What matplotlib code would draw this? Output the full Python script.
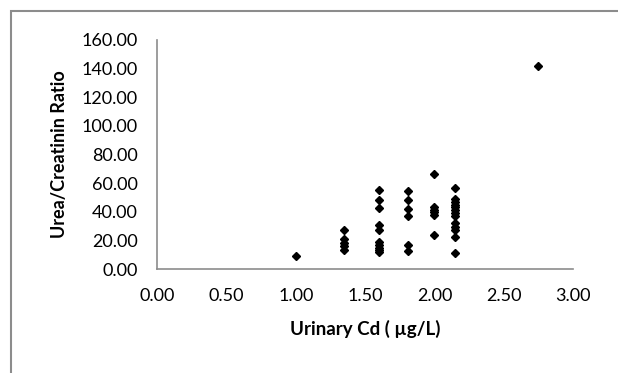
import matplotlib
matplotlib.use("Agg")
import matplotlib.pyplot as plt
from matplotlib.patches import Rectangle

plt.rcParams['font.family'] = ['Lato', 'DejaVu Sans']

# urinary Cd groups and the urea/creatinin ratios
cd_levels = [1.00, 1.35, 1.60, 1.81, 2.00, 2.15, 2.75]
ratio_groups = [
    [9.0],
    [27.5, 21.0, 18.5, 16.0, 13.5],
    [55.0, 48.5, 42.5, 30.5, 27.5, 19.0, 17.0, 15.0, 13.5, 12.0],
    [54.7, 48.5, 41.7, 37.0, 16.8, 12.8],
    [66.5, 43.5, 41.5, 39.5, 37.8, 23.8],
    [56.8, 49.0, 47.0, 45.0, 43.0, 41.0, 39.0, 37.0, 32.0, 29.5, 27.0, 22.5, 11.5],
    [141.5],
]
x_ticks = [0.0, 0.5, 1.0, 1.5, 2.0, 2.5, 3.0]
y_ticks = [0, 20, 40, 60, 80, 100, 120, 140, 160]

xs = []
ys = []
for cd, group in zip(cd_levels, ratio_groups):
    for r in group:
        xs.append(cd)
        ys.append(r)

fig = plt.figure(figsize=(6.18, 3.73), dpi=100)
ax = fig.add_axes([0.2545, 0.2788, 0.6727, 0.614])

ax.plot(xs, ys, linestyle='none', marker='D', markersize=4.4, color='black')

ax.set_xlim(0, 3)
ax.set_ylim(0, 160)
ax.set_xticks(x_ticks)
ax.set_xticklabels(['%.2f' % v for v in x_ticks])
ax.set_yticks(y_ticks)
ax.set_yticklabels(['%.2f' % v for v in y_ticks])
ax.tick_params(length=0, labelsize=13)
ax.tick_params(axis='y', pad=14)
ax.tick_params(axis='x', pad=14)

for side in ['top', 'right']:
    ax.spines[side].set_visible(False)
for side in ['left', 'bottom']:
    ax.spines[side].set_color('#8c8c8c')
    ax.spines[side].set_linewidth(1.2)

ax.set_xlabel('Urinary Cd ( µg/L)', fontsize=13.5, fontweight='bold', labelpad=11)
ax.set_ylabel('Urea/Creatinin Ratio', fontsize=13, fontweight='bold', labelpad=10)

# chart area border (only left and top edges fall inside the picture)
fig.patches.append(Rectangle((11 / 618, -0.1), 1.2, 1 - 11 / 373 + 0.1,
                             transform=fig.transFigure, fill=False,
                             edgecolor='#8c8c8c', linewidth=1.5))

fig.savefig('out.png', dpi=100)
